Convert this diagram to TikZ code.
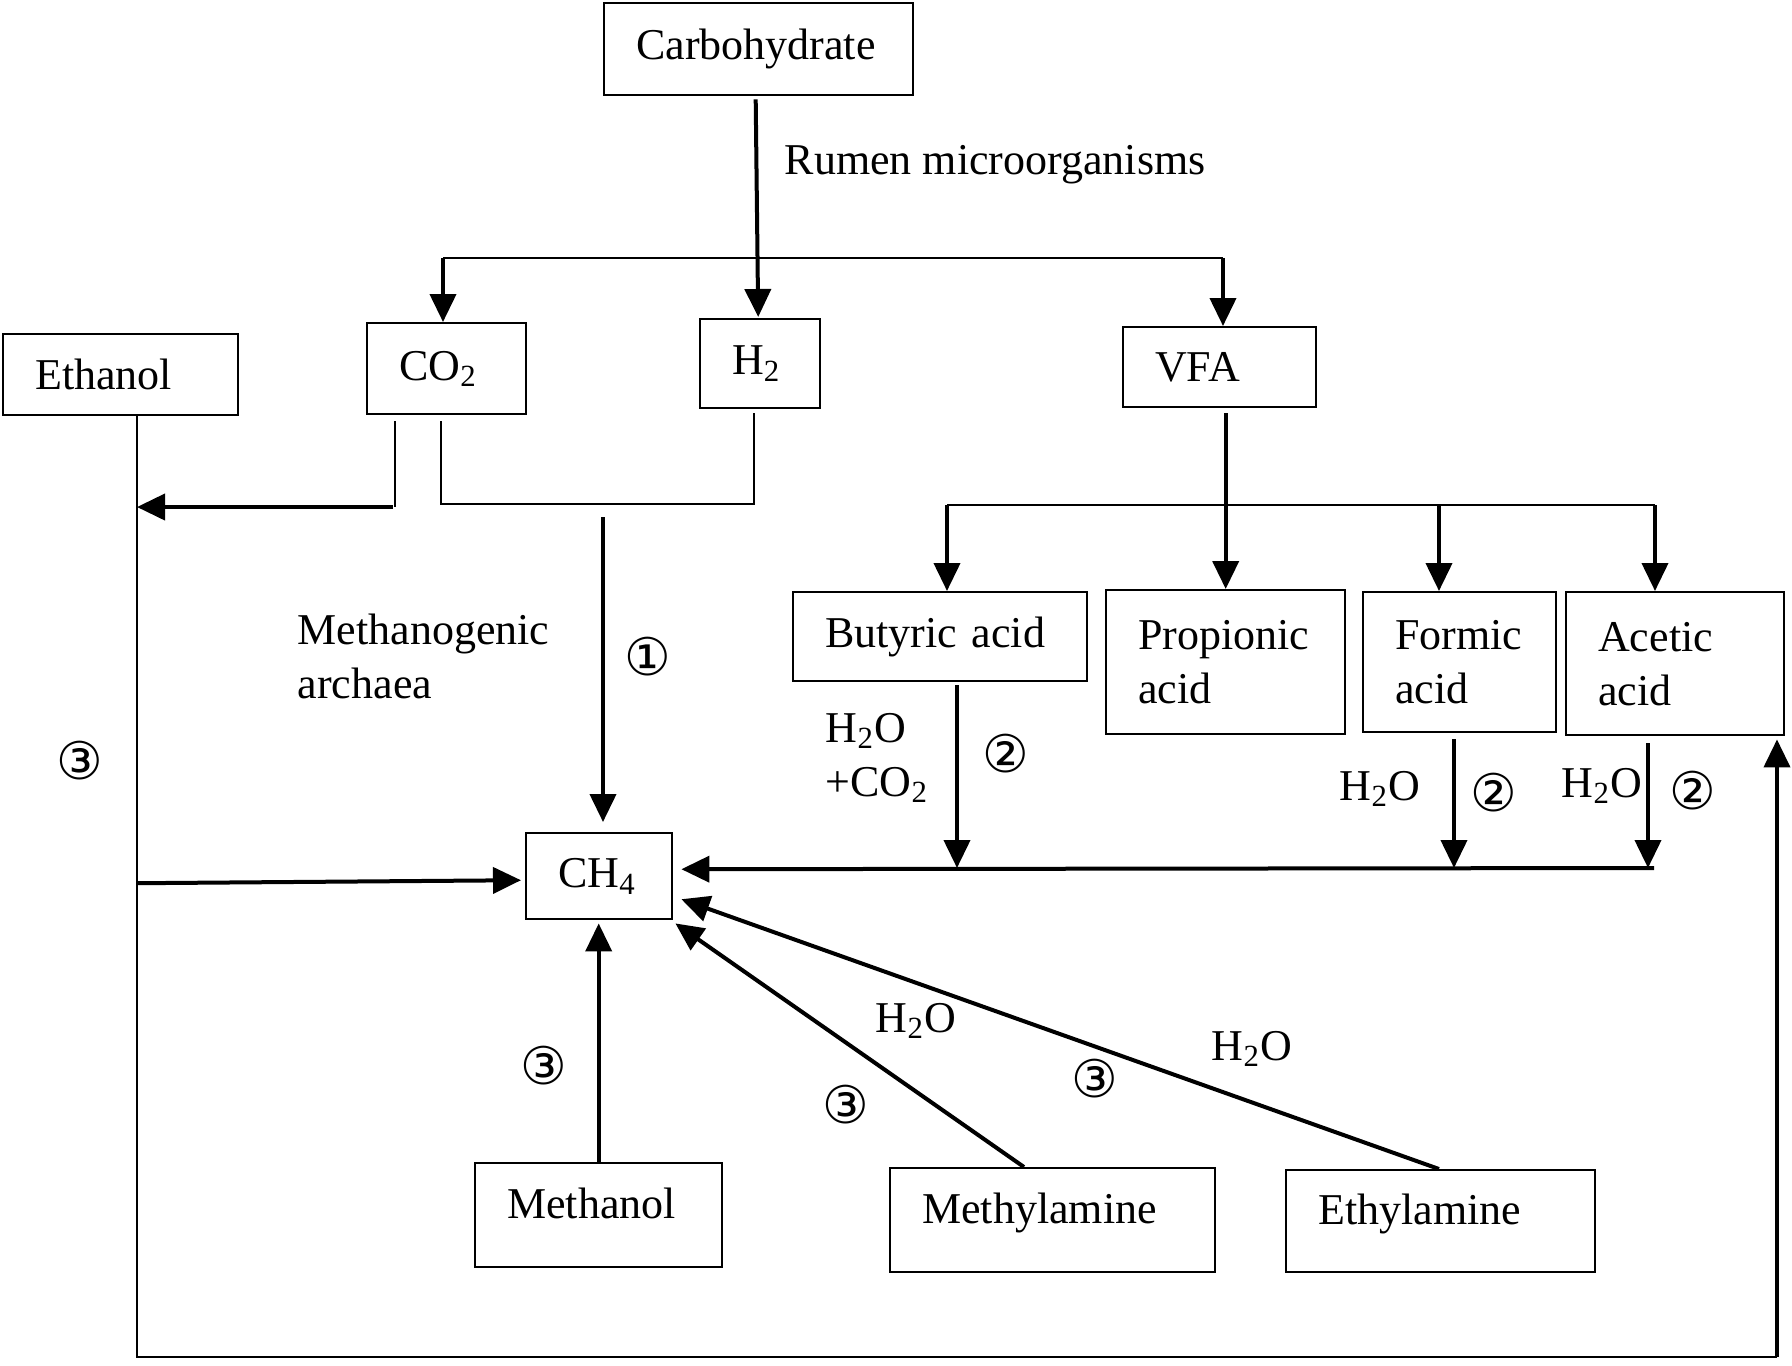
\documentclass[tikz,border=0pt]{standalone}
\usepackage{fontspec}
\setmainfont{Liberation Serif}
\newfontfamily\circfont{DejaVu Sans}
\usetikzlibrary{arrows.meta,calc}
\tikzset{
  box/.style={draw, line width=0.6pt, anchor=north west, inner xsep=8pt, inner ysep=1pt, align=left, font=\fontsize{11}{13.5}\selectfont},
  arr/.style={line width=1pt, -{Triangle[length=7pt,width=6.5pt]}},
  thinln/.style={line width=0.55pt},
  lbl/.style={inner sep=0pt, anchor=west, align=left, font=\fontsize{11}{13.5}\selectfont},
  num/.style={inner sep=0pt, font=\circfont\fontsize{13}{13}\selectfont},
}
\begin{document}
\begin{tikzpicture}[x=0.25pt,y=-0.25pt]
\path[fill=white] (0,0) rectangle (1792,1365);
\useasboundingbox (0,0) rectangle (1792,1365);

% boxes
\node[box, text width=61.25pt, minimum height=23pt]    (carb)   at (603,2)     {Carbohydrate};
\node[box, text width=42.75pt, minimum height=20.25pt] (eth)    at (2,333)     {Ethanol};
\node[box, text width=23.75pt, minimum height=22.75pt] (co2)    at (366,322)   {CO\textsubscript{2}};
\node[box, text width=14pt,    minimum height=22.25pt] (h2)     at (699,318)   {H\textsubscript{2}};
\node[box, text width=32.25pt, minimum height=20pt]    (vfa)    at (1122,326)  {VFA};
\node[box, text width=57.5pt,  minimum height=22.25pt] (but)    at (792,591)   {Butyric acid};
\node[box, text width=43.75pt, minimum height=36pt]    (prop)   at (1105,589)  {Propionic\\acid};
\node[box, text width=32.25pt, minimum height=35pt]    (form)   at (1362,591)  {Formic\\acid};
\node[box, text width=38.5pt,  minimum height=35.75pt] (acet)   at (1565,591)  {Acetic\\acid};
\node[box, text width=20.5pt,  minimum height=21.5pt]  (ch4)    at (525,832)   {CH\textsubscript{4}};
\node[box, text width=45.75pt, minimum height=26pt, inner ysep=0pt, text depth=6pt] (meth)   at (474,1162)  {Methanol};
\node[box, text width=65.25pt, minimum height=26pt, inner ysep=0pt, text depth=6pt] (mamine) at (889,1167)  {Methylamine};
\node[box, text width=61.25pt, minimum height=25.5pt, inner ysep=0pt, text depth=6pt] (eamine) at (1285,1169) {Ethylamine};

% labels
\node[lbl] (rumen)   at (784,165)  {Rumen microorganisms};
\node[lbl] (archaea) at (297,656)  {Methanogenic\\archaea};
\node[lbl] (w1)      at (825,758)  {H\textsubscript{2}O\\+CO\textsubscript{2}};
\node[lbl] (w2)      at (1339,789) {H\textsubscript{2}O};
\node[lbl] (w3)      at (1561,786) {H\textsubscript{2}O};
\node[lbl] (w4)      at (875,1021) {H\textsubscript{2}O};
\node[lbl] (w5)      at (1211,1049){H\textsubscript{2}O};
\node[num] (n1)  at (648,657)  {①};
\node[num] (n2a) at (1006,754) {②};
\node[num] (n2b) at (1494,793) {②};
\node[num] (n2c) at (1693,791) {②};
\node[num] (n3a) at (80,761)   {③};
\node[num] (n3b) at (544,1066) {③};
\node[num] (n3c) at (846,1105) {③};
\node[num] (n3d) at (1095,1079){③};

% top branching
\coordinate (tl) at (443,258);
\coordinate (tr) at (1223,258);
\draw[thinln] (tl) -- (tr);
\draw[arr] (tl) -- (tl |- co2.north);
\draw[arr] (tr) -- (tr |- vfa.north);
\draw[arr] ($(carb.south)+(-3,3)$) -- ($(h2.north)+(-2,-1)$);

% CO2 / H2 legs
\coordinate (cl) at (395,507);
\coordinate (ev) at (137,1357);
\coordinate (rv) at (1777,1357);
\draw[thinln] ($(co2.south -| cl)+(0,6)$) -- (cl);
\draw[thinln] (eth.south -| ev) -- (ev) -- (rv);
\draw[arr] ($(cl)+(-2,0)$) -- (cl -| ev);
\draw[arr] (rv) -- ($(rv |- acet.south)+(0,3)$);
\coordinate (c1) at (441,504);
\coordinate (c2) at (754,504);
\draw[thinln] ($(co2.south -| c1)+(0,6)$) -- (c1) -- (c2) -- ($(h2.south -| c2)+(0,4)$);

% route 1
\coordinate (m1) at (603,517);
\draw[arr] (m1) -- ($(ch4.north -| m1)+(0,-10)$);
\draw[arr] ($(ev |- ch4.west)+(0,7)$) -- ($(ch4.west)+(-4,4)$);

% VFA branching
\draw[arr] ($(vfa.south)+(6,5)$) -- (prop.north);
\coordinate (v1) at (947,505);
\coordinate (v2) at (1439,505);
\coordinate (v3) at (1655,505);
\draw[thinln] (v1) -- (v3);
\draw[arr] (v1) -- (v1 |- but.north);
\draw[arr] (v2) -- (v2 |- form.north);
\draw[arr] (v3) -- (v3 |- acet.north);

% acids to CH4
\coordinate (h1) at (957,868);
\coordinate (hb) at (1454,868);
\coordinate (h3) at (1648,868);
\draw[arr] ($(h3)+(6,0)$) -- ($(ch4.east)+(8,-7)$);
\draw[arr] ($(but.south -| h1)+(0,3)$) -- (h1);
\draw[arr] ($(form.south -| hb)+(0,6)$) -- (hb);
\draw[arr] ($(acet.south -| h3)+(0,7)$) -- (h3);

% methyl compounds
\draw[arr] (meth.north) -- ($(meth.north |- ch4.south)+(0,3)$);
\draw[arr] ($(mamine.north west)+(135,0)$) -- ($(ch4.south east)+(2,3)$);
\draw[arr] ($(eamine.north west)+(154,0)$) -- ($(ch4.east)+(8,23)$);
\end{tikzpicture}
\end{document}
